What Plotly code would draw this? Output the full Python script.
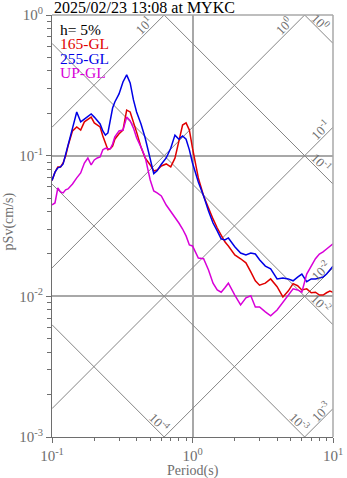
import math
import plotly.graph_objects as go

# Pseudo-velocity response spectra (h = 5%), period in s, pSv in cm/s
period = [0.10, 0.105, 0.11, 0.115, 0.12, 0.125, 0.13, 0.14, 0.15, 0.16,
          0.17, 0.18, 0.19, 0.20, 0.21, 0.22, 0.23, 0.24, 0.25, 0.26,
          0.27, 0.28, 0.30, 0.32, 0.34, 0.36, 0.38, 0.40, 0.43, 0.46,
          0.50, 0.53, 0.56, 0.60, 0.65, 0.70, 0.75, 0.80, 0.85, 0.90,
          0.95, 1.0, 1.1, 1.2, 1.3, 1.4, 1.5, 1.6, 1.7, 1.8,
          2.0, 2.2, 2.4, 2.6, 2.8, 3.0, 3.3, 3.6, 4.0, 4.4,
          4.8, 5.2, 5.6, 6.0, 6.5, 7.0, 7.5, 8.0, 8.5, 9.0,
          9.5, 10.0]

sv_165_gl = [0.0665, 0.0763, 0.0832, 0.0832, 0.0887, 0.0995, 0.117, 0.150, 0.160, 0.152,
             0.174, 0.182, 0.188, 0.171, 0.165, 0.160, 0.138, 0.123, 0.110, 0.112,
             0.117, 0.131, 0.143, 0.152, 0.211, 0.2045, 0.174, 0.147, 0.115, 0.0963,
             0.0859, 0.0778, 0.0791, 0.0845, 0.0873, 0.0832, 0.096, 0.130, 0.165, 0.171,
             0.152, 0.113, 0.0695, 0.0517, 0.0418, 0.0355, 0.0306, 0.0273, 0.0244, 0.0228,
             0.0197, 0.0185, 0.0173, 0.0149, 0.0129, 0.0120, 0.0124, 0.0133, 0.0117, 0.0099,
             0.0109, 0.0123, 0.0119, 0.0111, 0.0113, 0.0106, 0.0107, 0.0102, 0.0102, 0.0106,
             0.0109, 0.0107]

sv_255_gl = [0.0665, 0.0763, 0.0819, 0.0832, 0.0873, 0.101, 0.117, 0.157, 0.2045, 0.174,
             0.182, 0.191, 0.198, 0.188, 0.179, 0.168, 0.150, 0.140, 0.145, 0.174,
             0.218, 0.241, 0.275, 0.334, 0.375, 0.329, 0.249, 0.2045, 0.168, 0.134,
             0.0963, 0.0745, 0.078, 0.087, 0.0963, 0.113, 0.140, 0.131, 0.138, 0.131,
             0.110, 0.0887, 0.0650, 0.0517, 0.0404, 0.0332, 0.0292, 0.0256, 0.0252, 0.0260,
             0.0225, 0.0203, 0.0197, 0.0203, 0.0200, 0.0182, 0.0164, 0.0157, 0.0133, 0.0135,
             0.0133, 0.0129, 0.0137, 0.0144, 0.0127, 0.0133, 0.0133, 0.0135, 0.0137, 0.0144,
             0.0154, 0.0164]

sv_up_gl = [0.0446, 0.0461, 0.0589, 0.0552, 0.0543, 0.0571, 0.0580, 0.0629, 0.0695, 0.0754,
            0.0887, 0.0963, 0.0859, 0.0932, 0.0963, 0.0979, 0.110, 0.113, 0.112, 0.112,
            0.121, 0.136, 0.150, 0.152, 0.188, 0.177, 0.157, 0.134, 0.115, 0.098,
            0.0672, 0.0561, 0.0543, 0.0517, 0.0446, 0.0404, 0.0361, 0.0332, 0.0301, 0.0269,
            0.0232, 0.0228, 0.0187, 0.0185, 0.0154, 0.0124, 0.0111, 0.0107, 0.0115, 0.0124,
            0.0102, 0.0087, 0.00975, 0.0101, 0.00841, 0.00841, 0.00775, 0.00726, 0.0080, 0.00912,
            0.0101, 0.0113, 0.0111, 0.0107, 0.0144, 0.0164, 0.0185, 0.0200, 0.0207, 0.0217,
            0.0228, 0.0236]

series_names = ["165-GL", "255-GL", "UP-GL"]
damping_text = "h= 5%"
title_text = "2025/02/23 13:08 at MYKC"

# Tripartite guide lines: constant pseudo-acceleration and constant displacement
accel_levels = [1e1, 1e0, 1e-1, 1e-2, 1e-3]
disp_levels = [1e0, 1e-1, 1e-2, 1e-3, 1e-4]

x_tick_vals = [0.1, 1, 10]
x_tick_text = ["10<sup>-1</sup>", "10<sup>0</sup>", "10<sup>1</sup>"]
y_tick_vals = [0.001, 0.01, 0.1, 1]
y_tick_text = ["10<sup>-3</sup>", "10<sup>-2</sup>", "10<sup>-1</sup>", "10<sup>0</sup>"]

SERIF = "Liberation Serif, Times New Roman, serif"
AXIS_GRAY = "#6e6e6e"
GRID_GRAY = "#a8a8a8"
DIAG_GRAY = "#858585"
series_colors = ["#e00000", "#0000e6", "#d800d8"]

X_LOG = (-1.0, 1.0)
Y_LOG = (-3.0, 0.0)
LOG_2PI = math.log10(2 * math.pi)


def minor_vals(lo, hi):
    vals = []
    for e in range(lo, hi):
        for m in range(2, 10):
            vals.append(m * 10 ** e)
    return vals


fig = go.Figure()

t_ends = [10 ** X_LOG[0], 10 ** X_LOG[1]]
for a in accel_levels:
    fig.add_trace(go.Scatter(x=t_ends, y=[a * t / (2 * math.pi) for t in t_ends],
                             mode="lines", line=dict(color=DIAG_GRAY, width=1),
                             hoverinfo="skip", showlegend=False))
for d in disp_levels:
    fig.add_trace(go.Scatter(x=t_ends, y=[2 * math.pi * d / t for t in t_ends],
                             mode="lines", line=dict(color=DIAG_GRAY, width=1),
                             hoverinfo="skip", showlegend=False))

for name, sv, col in zip(series_names, [sv_165_gl, sv_255_gl, sv_up_gl], series_colors):
    fig.add_trace(go.Scatter(x=period, y=sv, mode="lines", name=name,
                             line=dict(color=col, width=1.5), showlegend=False))

annotations = []


def level_text(level):
    return "10<sup>%d</sup>" % round(math.log10(level))


# labels on the acceleration lines (rising), near where each leaves the frame
for a in accel_levels:
    k = math.log10(a)
    u_top = LOG_2PI - k
    if u_top < X_LOG[1]:
        u = u_top - 0.11
    else:
        u = X_LOG[1] - 0.05
    v = u + k - LOG_2PI
    annotations.append(dict(x=u, y=v, xref="x", yref="y", text=level_text(a),
                            showarrow=False, textangle=-45, xshift=-5, yshift=5,
                            font=dict(family=SERIF, size=13, color=AXIS_GRAY)))

# labels on the displacement lines (falling)
for d in disp_levels:
    k = math.log10(d)
    u_bot = k + LOG_2PI - Y_LOG[0]
    if u_bot < X_LOG[1]:
        u = u_bot - 0.07
    else:
        u = X_LOG[1] - 0.12
    v = -u + k + LOG_2PI
    annotations.append(dict(x=u, y=v, xref="x", yref="y", text=level_text(d),
                            showarrow=False, textangle=45, xshift=5, yshift=5,
                            font=dict(family=SERIF, size=13, color=AXIS_GRAY)))

# key text in the upper-left corner
key_lines = [(damping_text, "#000000")] + list(zip(series_names, series_colors))
for i, (txt, col) in enumerate(key_lines):
    annotations.append(dict(x=0.02, y=(437 - (29 + 14.6 * i)) / 422, xref="paper", yref="paper",
                            text=txt, showarrow=False, xanchor="left", yanchor="middle",
                            font=dict(family=SERIF, size=15.5, color=col)))

annotations.append(dict(x=0.0, y=1.0, xref="paper", yref="paper", text=title_text,
                        showarrow=False, xanchor="left", yanchor="bottom", yshift=-3,
                        font=dict(family=SERIF, size=16, color="#000000")))
annotations.append(dict(x=0.5, y=-0.081, xref="paper", yref="paper", text="Period(s)",
                        showarrow=False, xanchor="center", yanchor="middle",
                        font=dict(family=SERIF, size=14, color=AXIS_GRAY)))
annotations.append(dict(x=-0.155, y=0.512, xref="paper", yref="paper", text="pSv(cm/s)",
                        showarrow=False, xanchor="center", yanchor="middle", textangle=-90,
                        font=dict(family=SERIF, size=14, color=AXIS_GRAY)))

# frame edges on the top and right
shapes = [
    dict(type="line", xref="paper", yref="paper", x0=0, x1=1, y0=1, y1=1,
         line=dict(color=GRID_GRAY, width=1.5)),
    dict(type="line", xref="paper", yref="paper", x0=1, x1=1, y0=0, y1=1,
         line=dict(color=GRID_GRAY, width=1.5)),
]

fig.update_layout(
    width=347, height=478,
    margin=dict(l=52, r=14, t=15, b=41, autoexpand=False),
    paper_bgcolor="white", plot_bgcolor="white",
    annotations=annotations, shapes=shapes,
    xaxis=dict(type="log", range=list(X_LOG), tickmode="array", automargin=False,
               tickvals=x_tick_vals, ticktext=x_tick_text,
               ticks="outside", ticklen=5, tickcolor=AXIS_GRAY,
               showgrid=True, gridcolor=GRID_GRAY, gridwidth=1.5,
               showline=True, linecolor=AXIS_GRAY, linewidth=1,
               zeroline=False,
               tickfont=dict(family=SERIF, size=15, color=AXIS_GRAY),
               minor=dict(tickmode="array", tickvals=minor_vals(-1, 1),
                          ticks="outside", ticklen=3, tickcolor=AXIS_GRAY, showgrid=False)),
    yaxis=dict(type="log", range=list(Y_LOG), tickmode="array", automargin=False,
               tickvals=y_tick_vals, ticktext=y_tick_text,
               ticks="outside", ticklen=5, tickcolor=AXIS_GRAY,
               showgrid=True, gridcolor=GRID_GRAY, gridwidth=1.5,
               showline=True, linecolor=AXIS_GRAY, linewidth=1,
               zeroline=False,
               tickfont=dict(family=SERIF, size=15, color=AXIS_GRAY),
               minor=dict(tickmode="array", tickvals=minor_vals(-3, 0),
                          ticks="outside", ticklen=4, tickcolor=AXIS_GRAY, showgrid=False)),
)

fig.write_html("out.html")
